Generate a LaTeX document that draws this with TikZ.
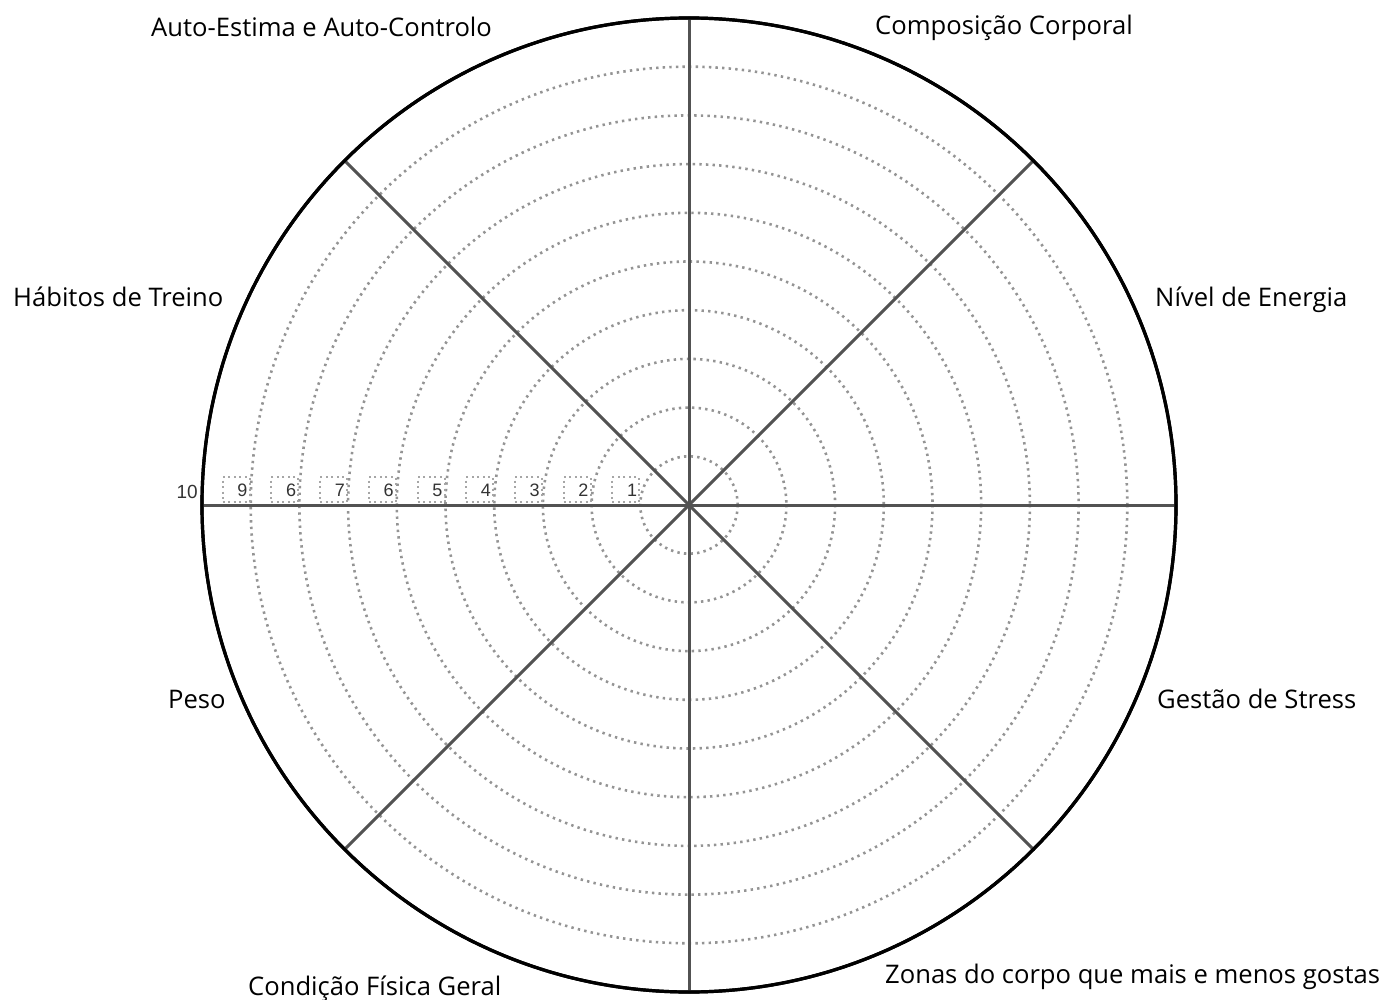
\documentclass[tikz,border=0pt]{standalone}
\usepackage{fontspec}
\setmainfont{Open Sans}
\newfontfamily\numfont{Liberation Sans}
\usetikzlibrary{positioning}

\begin{document}
\begin{tikzpicture}[
  x=1pt, y=-1pt,
  font=\fontsize{25.6}{30}\selectfont,
  rim/.style={circle, draw=black, line width=3.2pt, minimum size=974pt, inner sep=0pt},
  spoke/.style={draw=black!68, line width=3pt},
  ring/.style={draw=black!42, line width=2.6pt, dash pattern=on 2.4pt off 4.2pt},
  numbox/.style={draw=black!35, line width=2pt, dash pattern=on 2pt off 3.5pt,
                 minimum width=27pt, minimum height=25pt, inner sep=0pt},
  num/.style={font=\numfont\fontsize{18}{18}\selectfont, anchor=base east, inner sep=0pt, text=black!80},
  area/.style={anchor=base west, inner sep=0pt},
]
\useasboundingbox (0,0) rectangle (1387,1000);
% wheel
\node[rim] (rim) at (689,505) {};
\foreach \k in {1,...,9}
  \draw[ring] (rim.center) circle[radius=48.7*\k];
% scale
\foreach \k/\t in {1/1,2/2,3/3,4/4,5/5,6/6,7/7,8/6,9/9} {
  \node[numbox, anchor=south east] (box\k) at ({689-48.7*\k},503) {};
  \node[num] (num\k) at ([xshift=-3pt, yshift=7pt]box\k.south east) {\t};
}
\node[num, font=\numfont\fontsize{19}{19}\selectfont] (num10) at (198,498) {10};
% spokes
\draw[spoke] (rim.north) -- (rim.south);
\draw[spoke] (rim.west) -- (rim.east);
\draw[spoke] (rim.135) -- (rim.-45);
\draw[spoke] (rim.45) -- (rim.-135);
\node[rim] at (rim.center) {};
% areas
\node[area] (selfesteem) at (151,37)  {Auto-Estima e Auto-Controlo};
\node[area] (bodycomp)   at (875,35)  {Composição Corporal};
\node[area] (habits)     at (13,307)  {Hábitos de Treino};
\node[area] (energy)     at (1155,307) {Nível de Energia};
\node[area] (weight)     at (168,708) {Peso};
\node[area] (stress)     at (1157,708) {Gestão de Stress};
\node[area] (fitness)    at (248,995) {Condição Física Geral};
\node[area] (zones)      at (885,983) {Zonas do corpo que mais e menos gostas};
\end{tikzpicture}
\end{document}
